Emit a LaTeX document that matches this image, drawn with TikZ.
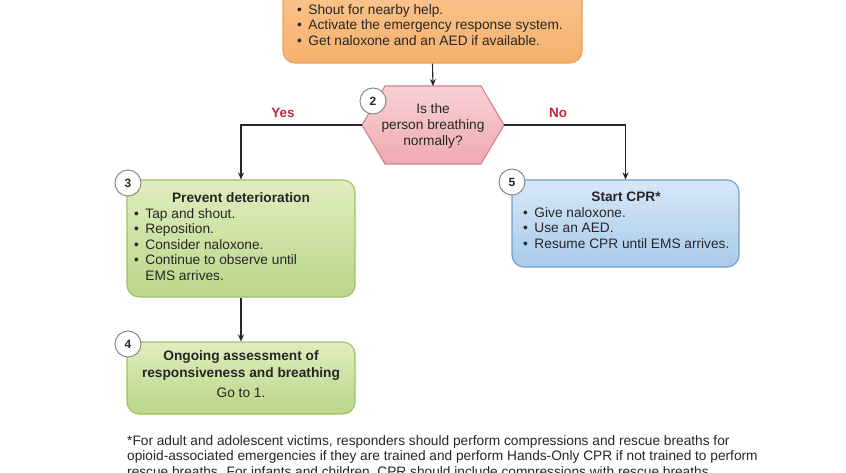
\documentclass[tikz,border=0pt]{standalone}
\usepackage{fontspec}
\setmainfont{Liberation Sans}
\usetikzlibrary{arrows.meta}
\definecolor{orTop}{HTML}{FCD6AC}
\definecolor{orBot}{HTML}{F6B06C}
\definecolor{orLine}{HTML}{E9A25E}
\definecolor{pkTop}{HTML}{F8D2D4}
\definecolor{pkBot}{HTML}{EFAAB0}
\definecolor{pkLine}{HTML}{D87F88}
\definecolor{gnTop}{HTML}{E0EDBE}
\definecolor{gnBot}{HTML}{BAD688}
\definecolor{gnLine}{HTML}{9CC266}
\definecolor{blTop}{HTML}{D6E8F7}
\definecolor{blBot}{HTML}{A8CAEA}
\definecolor{blLine}{HTML}{6E9FCB}
\definecolor{ynRed}{HTML}{C8283A}
\definecolor{ink}{HTML}{262626}
\definecolor{badgeLine}{HTML}{8A8A8A}
\tikzset{
  boxbase/.style={draw, line width=1.1pt, rounded corners=12pt, inner sep=0pt},
  orbox/.style={boxbase, draw=orLine, top color=orTop, bottom color=orBot},
  gnbox/.style={boxbase, draw=gnLine, top color=gnTop, bottom color=gnBot},
  blbox/.style={boxbase, draw=blLine, top color=blTop, bottom color=blBot},
  hexshape/.style={draw=pkLine, line width=1.1pt, top color=pkTop, bottom color=pkBot},
  badge/.style={circle, draw=badgeLine, fill=white, line width=1pt, minimum size=26pt, inner sep=0pt, font=\fontsize{12}{14}\selectfont\bfseries, text=ink},
  txt/.style={inner sep=0pt, text=ink, font=\fontsize{13.7}{15.6}\selectfont},
  ttl/.style={inner sep=0pt, text=ink, font=\fontsize{13.7}{17}\selectfont\bfseries},
  yn/.style={inner sep=0pt, text=ynRed, font=\fontsize{13.5}{15}\selectfont\bfseries},
  conn/.style={draw=ink, line width=1.1pt},
  arr/.style={conn, -{Stealth[length=7pt,width=6pt]}},
}
\newcommand{\bl}{\textbullet\hspace{6.5pt}}
\newcommand{\blind}{\phantom{\textbullet}\hspace{6.5pt}}
\begin{document}
\begin{tikzpicture}[x=1pt,y=-1pt]
\useasboundingbox (0,0) rectangle (846,473);
\clip (0,0) rectangle (846,473);
\fill[white] (0,0) rectangle (846,473);

% box 1
\node[orbox, minimum width=299pt, minimum height=143pt] (b1) at (432.5,-8.5) {};
\node[txt, anchor=north west, align=left] (t1) at (297,4)
  {\bl Shout for nearby help.\\\bl Activate the emergency response system.\\\bl Get naloxone and an AED if available.};

% hexagon 2
\coordinate (hT) at (433,86);
\coordinate (hL) at (362,125);
\coordinate (hR) at (504,125);
\draw[hexshape] (hL) -- (385,86) -- (481,86) -- (hR) -- (481,164) -- (385,164) -- cycle;
\node[txt, align=center] (q) at (433,126) {Is the\\person breathing\\normally?};
\node[badge] (n2) at (373,101) {2};

% box 3
\node[gnbox, minimum width=228pt, minimum height=117pt] (b3) at (241,238.5) {};
\node[badge] (n3) at (128,183) {3};
\node[ttl] (t3h) at (241,198) {Prevent deterioration};
\node[txt, anchor=north west, align=left] (t3) at (134,208)
  {\bl Tap and shout.\\\bl Reposition.\\\bl Consider naloxone.\\\bl Continue to observe until\\\blind EMS arrives.};

% box 4
\node[gnbox, minimum width=228pt, minimum height=72pt] (b4) at (241,378) {};
\node[badge] (n4) at (128,344) {4};
\node[ttl, align=center] (t4h) at (241,365.5) {Ongoing assessment of\\responsiveness and breathing};
\node[txt] (t4) at (241,393) {Go to 1.};

% box 5
\node[blbox, minimum width=227pt, minimum height=87pt] (b5) at (625.5,223.5) {};
\node[badge] (n5) at (512,182) {5};
\node[ttl] (t5h) at (626,197) {Start CPR*};
\node[txt, anchor=north west, align=left] (t5) at (523,207)
  {\bl Give naloxone.\\\bl Use an AED.\\\bl Resume CPR until EMS arrives.};

% labels
\node[yn] (yes) at (283,113) {Yes};
\node[yn] (no) at (558,113) {No};

% connectors
\draw[arr] (b1.south) -- (hT);
\draw[arr] (hL) -| (b3.north);
\draw[arr] (hR) -| (b5.north);
\draw[arr] (b3.south) -- (b4.north);

% footnote
\node[txt, anchor=north west, align=left] (fn) at (127,435)
  {*For adult and adolescent victims, responders should perform compressions and rescue breaths for\\
   opioid-associated emergencies if they are trained and perform Hands-Only CPR if not trained to perform\\
   rescue breaths. For infants and children, CPR should include compressions with rescue breaths.};
\end{tikzpicture}
\end{document}
